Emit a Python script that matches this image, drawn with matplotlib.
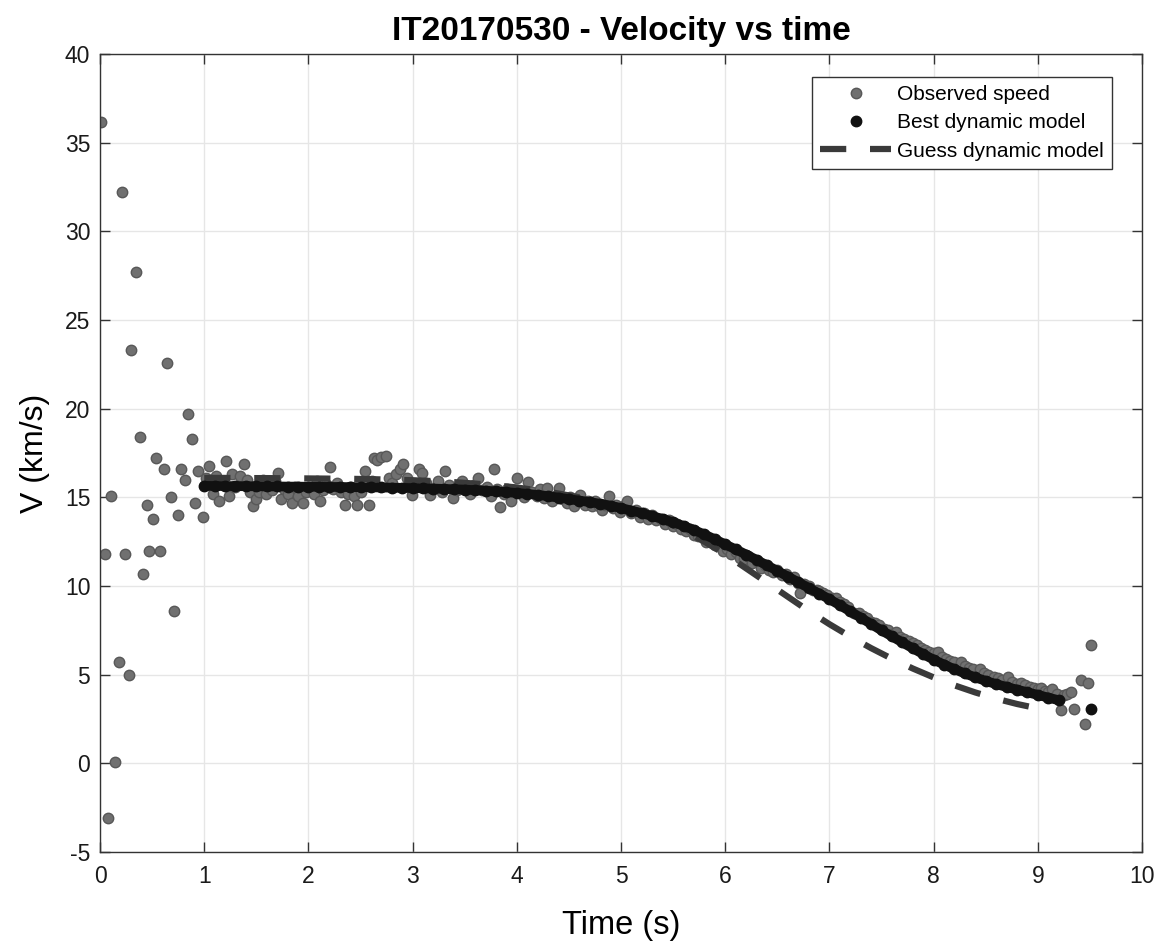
## Velocity vs time plot for event IT20170530

import matplotlib.pyplot as plt
from matplotlib.lines import Line2D

plt.rcParams['font.family'] = ['Liberation Sans', 'DejaVu Sans']
plt.rcParams['axes.unicode_minus'] = False

# observed speed (s, km/s)
obs_t = [0.01, 0.05, 0.08, 0.11, 0.14, 0.18, 0.21, 0.24, 0.28, 0.30, 0.35, 0.38, 0.41, 0.45, 0.47,
         0.51, 0.54, 0.58, 0.61, 0.64, 0.68, 0.71, 0.75, 0.78, 0.82, 0.84, 0.88, 0.91, 0.94, 0.99,
         1.02, 1.05, 1.08, 1.11, 1.14, 1.17, 1.21, 1.24, 1.27, 1.30, 1.34, 1.38, 1.41, 1.44, 1.47,
         1.50, 1.53, 1.56, 1.59, 1.62, 1.65, 1.68, 1.71, 1.74, 1.77, 1.80, 1.84, 1.87, 1.90, 1.95,
         1.98, 2.02, 2.05, 2.08, 2.11, 2.14, 2.18, 2.21, 2.24, 2.27, 2.31, 2.35, 2.38, 2.41, 2.44,
         2.47, 2.50, 2.54, 2.58, 2.61, 2.63, 2.66, 2.70, 2.74, 2.77, 2.80, 2.84, 2.88, 2.91, 2.95,
         2.99, 3.02, 3.06, 3.09, 3.13, 3.17, 3.20, 3.24, 3.28, 3.31, 3.35, 3.39, 3.43, 3.47, 3.51,
         3.55, 3.59, 3.63, 3.67, 3.71, 3.75, 3.78, 3.81, 3.84, 3.88, 3.91, 3.94, 3.97, 4.00, 4.04,
         4.07, 4.11, 4.15, 4.19, 4.22, 4.26, 4.29, 4.34, 4.37, 4.40, 4.44, 4.48, 4.51, 4.55, 4.58,
         4.61, 4.65, 4.68, 4.72, 4.75, 4.79, 4.82, 4.85, 4.88, 4.92, 4.95, 4.99, 5.02, 5.06, 5.10,
         5.14, 5.18, 5.22, 5.26, 5.30, 5.34, 5.38, 5.42, 5.46, 5.50, 5.54, 5.58, 5.62, 5.66, 5.70,
         5.74, 5.78, 5.82, 5.86, 5.90, 5.94, 5.98, 6.02, 6.06, 6.10, 6.14, 6.18, 6.22, 6.26, 6.30,
         6.34, 6.38, 6.42, 6.46, 6.50, 6.54, 6.58, 6.62, 6.66, 6.70, 6.72, 6.76, 6.80, 6.84, 6.88,
         6.90, 6.94, 6.98, 7.02, 7.06, 7.10, 7.14, 7.18, 7.24, 7.28, 7.32, 7.36, 7.40, 7.44, 7.48,
         7.52, 7.56, 7.60, 7.64, 7.68, 7.72, 7.76, 7.80, 7.84, 7.88, 7.92, 7.96, 8.00, 8.04, 8.08,
         8.12, 8.16, 8.20, 8.26, 8.30, 8.34, 8.38, 8.44, 8.48, 8.52, 8.58, 8.62, 8.66, 8.71, 8.75,
         8.80, 8.84, 8.88, 8.92, 8.96, 9.00, 9.03, 9.07, 9.10, 9.14, 9.18, 9.22, 9.25, 9.28, 9.32,
         9.35, 9.41, 9.45, 9.48, 9.51]
obs_v = [36.2, 11.8, -3.1, 15.1, 0.1, 5.7, 32.2, 11.8, 5.0, 23.3, 27.7, 18.4, 10.7, 14.6, 12.0,
         13.8, 17.2, 12.0, 16.6, 22.6, 15.0, 8.6, 14.0, 16.6, 16.0, 19.7, 18.3, 14.7, 16.5, 13.9,
         16.1, 16.8, 15.2, 16.2, 14.8, 15.9, 17.05, 15.1, 16.3, 15.6, 16.2, 16.9, 16.0, 15.3, 14.5,
         14.9, 15.3, 16.0, 15.2, 15.7, 15.4, 15.9, 16.35, 14.9, 15.5, 15.2, 14.7, 15.6, 15.1, 14.7,
         15.3, 15.6, 15.2, 15.9, 14.8, 15.4, 15.7, 16.7, 15.5, 15.8, 15.3, 14.6, 15.2, 15.6, 15.1,
         14.55, 15.3, 16.5, 14.55, 15.9, 17.2, 17.1, 17.3, 17.35, 16.1, 15.8, 16.3, 16.6, 16.9, 16.07,
         15.16, 15.6, 16.6, 16.4, 15.8, 15.16, 15.5, 15.9, 15.3, 16.5, 15.7, 14.98, 15.4, 15.9, 15.5,
         15.2, 15.7, 16.1, 15.4, 15.6, 15.1, 16.63, 15.5, 14.47, 15.2, 15.5, 14.78, 15.4, 16.07, 15.3,
         15.0, 15.86, 15.3, 15.1, 15.5, 14.98, 15.54, 14.79, 15.1, 15.54, 14.9, 14.7, 15.0, 14.54, 14.9,
         15.16, 14.6, 14.8, 14.5, 14.8, 14.5, 14.3, 14.6, 15.07, 14.4, 14.6, 14.2, 14.5, 14.79, 14.1,
         14.3, 13.9, 14.1, 13.8, 14.0, 13.7, 13.8, 13.5, 13.7, 13.4, 13.5, 13.2, 13.1, 13.2, 12.9,
         12.8, 12.9, 12.5, 12.6, 12.3, 12.3, 12.0, 12.1, 11.8, 11.9, 11.6, 11.5, 11.7, 11.3, 11.4,
         11.0, 11.2, 10.9, 10.8, 10.9, 10.6, 10.7, 10.4, 10.5, 10.2, 9.6, 10.1, 10.0, 9.8, 9.8,
         9.7, 9.6, 9.5, 9.3, 9.3, 9.1, 9.0, 8.8, 8.5, 8.5, 8.3, 8.2, 8.0, 7.9, 7.8,
         7.6, 7.5, 7.3, 7.4, 7.1, 7.0, 6.9, 6.8, 6.7, 6.5, 6.4, 6.3, 6.2, 6.3, 6.0,
         5.9, 5.8, 5.7, 5.7, 5.5, 5.4, 5.3, 5.3, 5.1, 5.0, 4.9, 4.8, 4.7, 4.9, 4.6,
         4.5, 4.56, 4.4, 4.3, 4.24, 4.2, 4.24, 4.1, 4.0, 4.19, 3.9, 3.0, 3.86, 3.9, 4.0,
         3.05, 4.7, 2.2, 4.56, 6.7]

# best dynamic model
best_t = [1.0, 1.1, 1.2, 1.3, 1.4, 1.5, 1.6, 1.7, 1.8, 1.9, 2.0, 2.1, 2.2, 2.3, 2.4, 2.5, 2.6,
          2.7, 2.8, 2.9, 3.0, 3.1, 3.2, 3.3, 3.4, 3.5, 3.6, 3.7, 3.8, 3.9, 4.0, 4.1, 4.2, 4.3,
          4.4, 4.5, 4.6, 4.7, 4.8, 4.9, 5.0, 5.1, 5.2, 5.3, 5.4, 5.5, 5.6, 5.7, 5.8, 5.9, 6.0,
          6.1, 6.2, 6.3, 6.4, 6.5, 6.6, 6.7, 6.8, 6.9, 7.0, 7.1, 7.2, 7.3, 7.4, 7.5, 7.6, 7.7,
          7.8, 7.9, 8.0, 8.1, 8.2, 8.3, 8.4, 8.5, 8.6, 8.7, 8.8, 8.9, 9.0, 9.1, 9.2]
best_v = [15.65, 15.65, 15.64, 15.64, 15.63, 15.63, 15.62, 15.62, 15.61, 15.61, 15.60, 15.60,
          15.59, 15.59, 15.58, 15.58, 15.57, 15.56, 15.55, 15.54, 15.53, 15.51, 15.50, 15.48,
          15.46, 15.44, 15.41, 15.38, 15.34, 15.30, 15.25, 15.20, 15.14, 15.07, 14.99, 14.90,
          14.82, 14.74, 14.64, 14.53, 14.40, 14.26, 14.11, 13.95, 13.78, 13.60, 13.39, 13.16,
          12.91, 12.64, 12.35, 12.07, 11.78, 11.48, 11.17, 10.86, 10.54, 10.22, 9.90, 9.58,
          9.26, 8.92, 8.57, 8.22, 7.86, 7.50, 7.16, 6.82, 6.49, 6.16, 5.85, 5.57, 5.31, 5.07,
          4.85, 4.65, 4.47, 4.31, 4.16, 4.01, 3.86, 3.71, 3.56]
best_end_t = [9.51]
best_end_v = [3.05]

# guess dynamic model
guess_t = [1.0, 1.2, 1.4, 1.6, 1.8, 2.0, 2.2, 2.4, 2.6, 2.8, 3.0, 3.2, 3.4, 3.6, 3.8, 4.0, 4.2,
           4.4, 4.6, 4.8, 5.0, 5.2, 5.4, 5.6, 5.8, 6.0, 6.2, 6.4, 6.6, 6.8, 7.0, 7.2, 7.4, 7.6,
           7.8, 8.0, 8.2, 8.4, 8.6, 8.8, 9.0, 9.1]
guess_v = [16.10, 16.10, 16.09, 16.09, 16.08, 16.07, 16.06, 16.05, 16.03, 16.00, 15.97, 15.92,
           15.86, 15.78, 15.68, 15.56, 15.40, 15.22, 15.00, 14.75, 14.47, 14.15, 13.70, 13.15,
           12.50, 11.80, 11.00, 10.20, 9.40, 8.60, 7.85, 7.15, 6.50, 5.90, 5.35, 4.85, 4.40,
           4.00, 3.65, 3.35, 3.10, 2.98]

fig = plt.figure(figsize=(11.63, 9.42), dpi=100)
ax = fig.add_axes([0.086, 0.0955, 0.896, 0.847])

obs_col = '#707070'
ax.plot(obs_t, obs_v, 'o', color=obs_col, mec='#585858', ms=7.5, zorder=2)
ax.plot(guess_t, guess_v, color='#3a3a3a', lw=4.5, dashes=(4.2, 3.8), zorder=3)
ax.plot(best_t, best_v, '-', color='#111111', lw=7, solid_capstyle='round', zorder=4)
ax.plot(best_t, best_v, 'o', color='#111111', ms=7.5, zorder=4)
ax.plot(best_end_t, best_end_v, 'o', color='#111111', ms=7.5, zorder=4)

ax.set_xlim(0, 10)
ax.set_ylim(-5, 40)
ax.set_xticks(range(0, 11))
ax.set_yticks(range(-5, 41, 5))
ax.grid(True, color='#e6e6e6', lw=1)
ax.set_axisbelow(True)
ax.tick_params(direction='in', length=7, width=1, color='#333333', labelsize=16.5,
               labelcolor='#1a1a1a', top=True, right=True)
ax.tick_params(axis='x', pad=9)
ax.tick_params(axis='y', pad=7)
for s in ax.spines.values():
    s.set_color('#333333')
    s.set_linewidth(1)

ax.set_xlabel('Time (s)', fontsize=23.5, labelpad=16)
ax.set_ylabel('V (km/s)', fontsize=23, labelpad=11)
ax.set_title('IT20170530 - Velocity vs time', fontsize=24, fontweight='bold', pad=10)

handles = [Line2D([], [], ls='none', marker='o', color=obs_col, mec='#585858', ms=7.5),
           Line2D([], [], ls='none', marker='o', color='#111111', ms=7.5),
           Line2D([], [], color='#3a3a3a', lw=4.5, dashes=(4.2, 3.8))]
leg = ax.legend(handles, ['Observed speed', 'Best dynamic model', 'Guess dynamic model'],
                loc='upper right', bbox_to_anchor=(0.9715, 0.972), fontsize=15,
                handlelength=3.4, handletextpad=0.3, labelspacing=0.45, borderpad=0.4,
                borderaxespad=0, fancybox=False, framealpha=1, edgecolor='#333333')
leg.get_frame().set_linewidth(1)

fig.savefig('out.png', dpi=100)
